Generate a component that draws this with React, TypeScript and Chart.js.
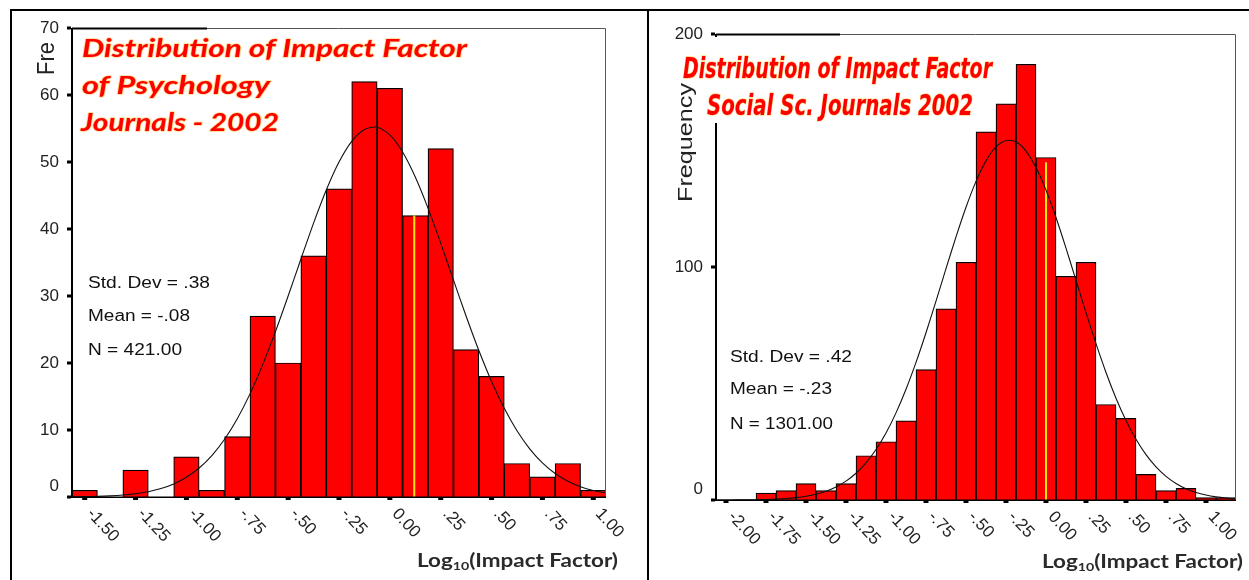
import React, { useEffect, useRef } from 'react';
import { Chart, registerables } from 'chart.js';

Chart.register(...registerables);

// ---------- Psychology journals (left panel) ----------
const psyBinCenters = [-1.5, -1.375, -1.25, -1.125, -1, -0.875, -0.75, -0.625, -0.5, -0.375, -0.25, -0.125, 0, 0.125, 0.25, 0.375, 0.5, 0.625, 0.75, 0.875, 1];
const psyCounts = [1, 0, 4, 0, 6, 1, 9, 27, 20, 36, 46, 62, 61, 42, 52, 22, 18, 5, 3, 5, 1];
const psyCurveX = [-1.5625, -1.5, -1.4375, -1.375, -1.3125, -1.25, -1.1875, -1.125, -1.0625, -1, -0.9375, -0.875, -0.8125, -0.75, -0.6875, -0.625, -0.5625, -0.5, -0.4375, -0.375, -0.3125, -0.25, -0.1875, -0.125, -0.0625, 0, 0.0625, 0.125, 0.1875, 0.25, 0.3125, 0.375, 0.4375, 0.5, 0.5625, 0.625, 0.6875, 0.75, 0.8125, 0.875, 0.9375, 1, 1.0625];
const psyCurveY = [0.03, 0.05, 0.09, 0.17, 0.29, 0.48, 0.79, 1.26, 1.95, 2.95, 4.33, 6.19, 8.62, 11.68, 15.39, 19.76, 24.68, 30.0, 35.49, 40.88, 45.82, 49.99, 53.08, 54.86, 55.19, 54.04, 51.5, 47.77, 43.12, 37.9, 32.41, 26.98, 21.86, 17.24, 13.23, 9.88, 7.19, 5.09, 3.5, 2.35, 1.53, 0.97, 0.6];
const psyMarker = [0.12, 42];
const psyXTickValues = [-1.5, -1.25, -1, -0.75, -0.5, -0.25, 0, 0.25, 0.5, 0.75, 1];
const psyXTickLabels = ['-1.50', '-1.25', '-1.00', '-.75', '-.50', '-.25', '0.00', '.25', '.50', '.75', '1.00'];
const psyYTicks = [0, 10, 20, 30, 40, 50, 60, 70];
const psyTitle = ['Distribution of Impact Factor', 'of Psychology', 'Journals - 2002'];
const psyStats = ['Std. Dev = .38', 'Mean = -.08', 'N = 421.00'];
const psyYTitle = 'Fre';

// ---------- Social science journals (right panel) ----------
const socBinCenters = [-2, -1.875, -1.75, -1.625, -1.5, -1.375, -1.25, -1.125, -1, -0.875, -0.75, -0.625, -0.5, -0.375, -0.25, -0.125, 0, 0.125, 0.25, 0.375, 0.5, 0.625, 0.75, 0.875, 1, 1.125];
const socCounts = [0, 0, 3, 4, 7, 4, 7, 19, 25, 34, 56, 82, 102, 158, 170, 187, 147, 96, 102, 41, 35, 11, 4, 5, 1, 1];
const socCurveX = [-2.0625, -2, -1.9375, -1.875, -1.8125, -1.75, -1.6875, -1.625, -1.5625, -1.5, -1.4375, -1.375, -1.3125, -1.25, -1.1875, -1.125, -1.0625, -1, -0.9375, -0.875, -0.8125, -0.75, -0.6875, -0.625, -0.5625, -0.5, -0.4375, -0.375, -0.3125, -0.25, -0.1875, -0.125, -0.0625, 0, 0.0625, 0.125, 0.1875, 0.25, 0.3125, 0.375, 0.4375, 0.5, 0.5625, 0.625, 0.6875, 0.75, 0.8125, 0.875, 0.9375, 1, 1.0625, 1.125, 1.1875];
const socCurveY = [0.01, 0.02, 0.04, 0.07, 0.13, 0.22, 0.38, 0.62, 1.01, 1.6, 2.48, 3.76, 5.58, 8.09, 11.49, 15.96, 21.66, 28.78, 37.39, 47.51, 59.05, 71.8, 85.36, 99.28, 112.94, 125.66, 136.75, 145.55, 151.55, 154.33, 153.71, 149.74, 142.7, 133.0, 121.24, 108.09, 94.26, 80.4, 67.08, 54.74, 43.69, 34.11, 26.05, 19.45, 14.21, 10.16, 7.1, 4.85, 3.24, 2.12, 1.36, 0.85, 0.52];
const socMarker = [0, 145];
const socXTickValues = [-2, -1.75, -1.5, -1.25, -1, -0.75, -0.5, -0.25, 0, 0.25, 0.5, 0.75, 1];
const socXTickLabels = ['-2.00', '-1.75', '-1.50', '-1.25', '-1.00', '-.75', '-.50', '-.25', '0.00', '.25', '.50', '.75', '1.00'];
const socYTicks = [0, 100, 200];
const socTitle = ['Distribution of Impact Factor', 'Social Sc. Journals 2002'];
const socStats = ['Std. Dev = .42', 'Mean = -.23', 'N = 1301.00'];
const socYTitle = 'Frequency';

type TextSpec = { text: string; x: number; y: number; w: number };

type PanelCfg = {
  left: number; top: number; w: number; h: number;
  padding: { left: number; top: number; right: number; bottom: number };
  xMin: number; xMax: number; yMax: number;
  bins: number[]; counts: number[];
  curveX: number[]; curveY: number[];
  marker: number[];
  xTickValues: number[]; xTickLabels: string[];
  yTicks: number[];
  thickTop: number;
  titles: TextSpec[]; titleFont: string;
  stats: TextSpec[];
  yTitle: { text: string; x: number; y: number; w: number; font: string };
  xTitle: { x: number; y: number; w: number };
  cover?: { x: number; y: number; w: number; h: number };
};

function drawFitted(ctx: CanvasRenderingContext2D, text: string, x: number, y: number, width: number, font: string, fill: string, stroke?: string, strokeWidth?: number) {
  ctx.save();
  ctx.font = font;
  ctx.textAlign = 'left';
  ctx.textBaseline = 'alphabetic';
  const m = ctx.measureText(text).width;
  ctx.translate(x, y);
  ctx.scale(width / m, 1);
  if (stroke) {
    ctx.strokeStyle = stroke;
    ctx.lineWidth = strokeWidth || 2;
    ctx.lineJoin = 'round';
    ctx.strokeText(text, 0, 0);
  }
  ctx.fillStyle = fill;
  ctx.fillText(text, 0, 0);
  ctx.restore();
}

function makeOverlay(cfg: PanelCfg) {
  const ox = cfg.left, oy = cfg.top;
  return {
    id: 'overlay',
    afterDatasetsDraw(chart: any) {
      const ctx: CanvasRenderingContext2D = chart.ctx;
      const { left, top, right, bottom } = chart.chartArea;
      const xs = chart.scales.x, ys = chart.scales.y;
      ctx.save();
      // plot frame (top / right)
      ctx.strokeStyle = '#555';
      ctx.lineWidth = 1;
      ctx.beginPath();
      ctx.moveTo(left, top + 0.5);
      ctx.lineTo(right - 0.5, top + 0.5);
      ctx.lineTo(right - 0.5, bottom);
      ctx.stroke();
      ctx.fillStyle = '#000';
      ctx.fillRect(left, top - 0.5, cfg.thickTop, 2);
      // axes
      ctx.fillRect(left - 1, top, 2, bottom - top + 1);
      ctx.fillRect(left - 1, bottom - 0.5, right - left + 1, 1.5);
      // y ticks
      for (const v of cfg.yTicks) {
        const y = ys.getPixelForValue(v);
        ctx.fillRect(left - 5, y - 1.5, 4, 3);
      }
      // x ticks
      for (const v of cfg.xTickValues) {
        const x = xs.getPixelForValue(v);
        ctx.fillRect(x - 2.5, bottom + 1, 5, 2);
      }
      // y tick labels
      ctx.font = '17px "Liberation Sans", Arial, sans-serif';
      ctx.fillStyle = '#222';
      ctx.textAlign = 'right';
      ctx.textBaseline = 'middle';
      for (const v of cfg.yTicks) {
        const y = ys.getPixelForValue(v) + (v === 0 ? -11 : 0);
        ctx.fillText(String(v), left - 13, y);
      }
      // x tick labels (rotated clockwise)
      ctx.font = '17px "Liberation Sans", Arial, sans-serif';
      ctx.textAlign = 'left';
      ctx.textBaseline = 'middle';
      cfg.xTickValues.forEach((v, i) => {
        const x = xs.getPixelForValue(v);
        ctx.save();
        ctx.translate(x + 5, bottom + 14);
        ctx.rotate(0.83);
        ctx.fillText(cfg.xTickLabels[i], 0, 0);
        ctx.restore();
      });
      ctx.restore();
    },
    afterDraw(chart: any) {
      const ctx: CanvasRenderingContext2D = chart.ctx;
      ctx.save();
      if (cfg.cover) {
        ctx.fillStyle = '#fff';
        ctx.fillRect(cfg.cover.x - ox, cfg.cover.y - oy, cfg.cover.w, cfg.cover.h);
      }
      // stats
      for (const s of cfg.stats) {
        drawFitted(ctx, s.text, s.x - ox, s.y - oy, s.w, '16px "Liberation Sans", Arial, sans-serif', '#111');
      }
      // y title
      ctx.save();
      ctx.translate(cfg.yTitle.x - ox, cfg.yTitle.y - oy);
      ctx.rotate(-Math.PI / 2);
      drawFitted(ctx, cfg.yTitle.text, 0, 0, cfg.yTitle.w, cfg.yTitle.font, '#222');
      ctx.restore();
      // x title with subscript
      {
        const big = 'bold 19px Lato, "Open Sans", sans-serif';
        const small = 'bold 12px Lato, "Open Sans", sans-serif';
        ctx.save();
        ctx.font = big;
        const w1 = ctx.measureText('Log').width;
        const w3 = ctx.measureText('(Impact Factor)').width;
        ctx.font = small;
        const w2 = ctx.measureText('10').width;
        const total = w1 + w2 + w3;
        ctx.translate(cfg.xTitle.x - ox, cfg.xTitle.y - oy);
        ctx.scale(cfg.xTitle.w / total, 1);
        ctx.fillStyle = '#2a2a2a';
        ctx.textAlign = 'left';
        ctx.textBaseline = 'alphabetic';
        ctx.font = big;
        ctx.fillText('Log', 0, 0);
        ctx.font = small;
        ctx.fillText('10', w1, 3);
        ctx.font = big;
        ctx.fillText('(Impact Factor)', w1 + w2, 0);
        ctx.restore();
      }
      // red titles
      for (const t of cfg.titles) {
        drawFitted(ctx, t.text, t.x - ox, t.y - oy, t.w, cfg.titleFont, '#FF0000', 'rgba(255,200,80,0.7)', 1.4);
      }
      ctx.restore();
    },
  };
}

function Panel({ cfg }: { cfg: PanelCfg }) {
  const ref = useRef<HTMLCanvasElement>(null);
  useEffect(() => {
    const barData = cfg.bins.map((x, i) => ({ x, y: cfg.counts[i] }));
    const curveData = cfg.curveX.map((x, i) => ({ x, y: cfg.curveY[i] }));
    const markerData = [{ x: cfg.marker[0], y: 0 }, { x: cfg.marker[0], y: cfg.marker[1] }];
    const chart = new Chart(ref.current as HTMLCanvasElement, {
      type: 'bar',
      data: {
        datasets: [
          {
            type: 'line',
            data: curveData,
            borderColor: '#111',
            borderWidth: 1.1,
            pointRadius: 0,
            tension: 0.25,
            fill: false,
            order: 0,
          } as any,
          {
            type: 'line',
            data: markerData,
            borderColor: '#FFE800',
            borderWidth: 2,
            pointRadius: 0,
            fill: false,
            order: 1,
          } as any,
          {
            type: 'bar',
            data: barData,
            backgroundColor: '#FF0000',
            borderColor: '#000',
            borderWidth: 1.2,
            barPercentage: 1,
            categoryPercentage: 1,
            order: 2,
          } as any,
        ],
      },
      options: {
        animation: false,
        responsive: false,
        events: [],
        layout: { padding: cfg.padding },
        plugins: { legend: { display: false }, tooltip: { enabled: false }, title: { display: false } },
        scales: {
          x: { type: 'linear', display: false, min: cfg.xMin, max: cfg.xMax, offset: false, grid: { offset: false } },
          y: { type: 'linear', display: false, min: 0, max: cfg.yMax },
        },
      },
      plugins: [makeOverlay(cfg)],
    });
    return () => chart.destroy();
  }, []);
  return (
    <canvas
      ref={ref}
      width={cfg.w}
      height={cfg.h}
      style={{ position: 'absolute', left: cfg.left, top: cfg.top, width: cfg.w, height: cfg.h }}
    />
  );
}

const leftCfg: PanelCfg = {
  left: 12, top: 11, w: 635, h: 569,
  padding: { left: 60, top: 17, right: 41, bottom: 83 },
  xMin: -1.5625, xMax: 1.0625, yMax: 70,
  bins: psyBinCenters, counts: psyCounts,
  curveX: psyCurveX, curveY: psyCurveY,
  marker: psyMarker,
  xTickValues: psyXTickValues, xTickLabels: psyXTickLabels,
  yTicks: psyYTicks,
  thickTop: 135,
  titles: [
    { text: psyTitle[0], x: 82, y: 57, w: 385 },
    { text: psyTitle[1], x: 82, y: 94, w: 188 },
    { text: psyTitle[2], x: 81, y: 131, w: 198 },
  ],
  titleFont: 'italic bold 24px Lato, "Open Sans", sans-serif',
  stats: [
    { text: psyStats[0], x: 88, y: 288, w: 122 },
    { text: psyStats[1], x: 88, y: 321, w: 102 },
    { text: psyStats[2], x: 88, y: 355, w: 94 },
  ],
  yTitle: { text: psyYTitle, x: 54, y: 75, w: 33, font: '24px "Liberation Sans", Arial, sans-serif' },
  xTitle: { x: 417, y: 567, w: 201 },
};

const rightCfg: PanelCfg = {
  left: 649, top: 11, w: 600, h: 569,
  padding: { left: 67, top: 23, right: 13, bottom: 80 },
  xMin: -2.0625, xMax: 1.1875, yMax: 200,
  bins: socBinCenters, counts: socCounts,
  curveX: socCurveX, curveY: socCurveY,
  marker: socMarker,
  xTickValues: socXTickValues, xTickLabels: socXTickLabels,
  yTicks: socYTicks,
  thickTop: 124,
  titles: [
    { text: socTitle[0], x: 683, y: 78, w: 309 },
    { text: socTitle[1], x: 707, y: 115, w: 266 },
  ],
  titleFont: 'italic 600 29px "Liberation Sans Narrow", "DejaVu Sans", sans-serif',
  stats: [
    { text: socStats[0], x: 730, y: 362, w: 122 },
    { text: socStats[1], x: 730, y: 394, w: 102 },
    { text: socStats[2], x: 730, y: 429, w: 103 },
  ],
  yTitle: { text: socYTitle, x: 692, y: 202, w: 119, font: '21px "Liberation Sans", Arial, sans-serif' },
  xTitle: { x: 1042, y: 568, w: 201 },
  cover: { x: 711, y: 37, w: 10, h: 86 },
};

export default function App() {
  return (
    <div style={{ position: 'absolute', left: 0, top: 0, width: 1249, height: 580, background: '#fff', overflow: 'hidden' }}>
      <Panel cfg={leftCfg} />
      <Panel cfg={rightCfg} />
      <div style={{ position: 'absolute', left: 10, top: 9, width: 1239, height: 2, background: '#000' }} />
      <div style={{ position: 'absolute', left: 10, top: 9, width: 2, height: 571, background: '#000' }} />
      <div style={{ position: 'absolute', left: 647, top: 9, width: 2, height: 571, background: '#000' }} />
    </div>
  );
}
